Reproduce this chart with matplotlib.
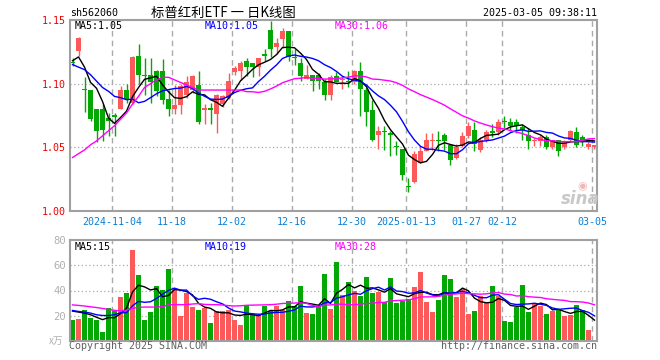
import matplotlib
matplotlib.use("Agg")
import matplotlib.pyplot as plt
import numpy as np
import pandas as pd

# daily candles, 2024-10-24 .. 2025-03-05 (index 0..87)
opens = [1.117, 1.126, 1.096, 1.095, 1.080, 1.080, 1.073, 1.075, 1.080, 1.095,
         1.085, 1.122, 1.107, 1.107, 1.110, 1.110, 1.088, 1.080, 1.083, 1.091,
         1.095, 1.099, 1.079, 1.081, 1.076, 1.084, 1.089, 1.109, 1.110, 1.118,
         1.116, 1.113, 1.123, 1.142, 1.129, 1.135, 1.141, 1.121, 1.116, 1.104,
         1.107, 1.107, 1.101, 1.091, 1.106, 1.103, 1.102, 1.101, 1.110, 1.095,
         1.079, 1.060, 1.063, 1.061, 1.051, 1.049, 1.020, 1.023, 1.038, 1.047,
         1.055, 1.056, 1.060, 1.052, 1.042, 1.051, 1.059, 1.064, 1.048, 1.056,
         1.063, 1.062, 1.071, 1.070, 1.070, 1.066, 1.060, 1.055, 1.055, 1.058,
         1.050, 1.056, 1.050, 1.056, 1.062, 1.058, 1.050, 1.050]
highs = [1.120, 1.137, 1.105, 1.095, 1.080, 1.084, 1.077, 1.077, 1.098, 1.100,
         1.122, 1.131, 1.120, 1.120, 1.111, 1.119, 1.095, 1.099, 1.100, 1.106,
         1.107, 1.110, 1.084, 1.085, 1.092, 1.091, 1.108, 1.114, 1.118, 1.120,
         1.116, 1.120, 1.127, 1.149, 1.136, 1.144, 1.141, 1.127, 1.120, 1.115,
         1.107, 1.108, 1.104, 1.107, 1.109, 1.106, 1.110, 1.111, 1.117, 1.097,
         1.087, 1.067, 1.067, 1.063, 1.055, 1.049, 1.026, 1.047, 1.051, 1.061,
         1.061, 1.063, 1.061, 1.053, 1.053, 1.062, 1.070, 1.070, 1.058, 1.064,
         1.068, 1.072, 1.075, 1.073, 1.072, 1.068, 1.065, 1.057, 1.060, 1.060,
         1.056, 1.056, 1.056, 1.064, 1.066, 1.060, 1.054, 1.052]
lows = [1.114, 1.122, 1.078, 1.071, 1.054, 1.055, 1.059, 1.059, 1.080, 1.085,
        1.084, 1.100, 1.091, 1.085, 1.090, 1.084, 1.075, 1.076, 1.076, 1.089,
        1.093, 1.068, 1.068, 1.068, 1.061, 1.082, 1.088, 1.107, 1.103, 1.106,
        1.105, 1.106, 1.118, 1.121, 1.123, 1.128, 1.118, 1.115, 1.102, 1.104,
        1.094, 1.096, 1.087, 1.087, 1.101, 1.096, 1.097, 1.100, 1.075, 1.067,
        1.055, 1.049, 1.048, 1.043, 1.044, 1.024, 1.015, 1.022, 1.038, 1.047,
        1.048, 1.047, 1.048, 1.036, 1.041, 1.050, 1.057, 1.047, 1.046, 1.054,
        1.058, 1.060, 1.065, 1.063, 1.061, 1.056, 1.049, 1.051, 1.051, 1.049,
        1.049, 1.043, 1.049, 1.055, 1.050, 1.051, 1.049, 1.049]
closes = [1.116, 1.136, 1.095, 1.072, 1.063, 1.064, 1.071, 1.074, 1.095, 1.088,
          1.121, 1.107, 1.106, 1.101, 1.094, 1.087, 1.080, 1.083, 1.098, 1.101,
          1.106, 1.070, 1.081, 1.079, 1.091, 1.090, 1.102, 1.112, 1.116, 1.113,
          1.113, 1.120, 1.122, 1.127, 1.132, 1.141, 1.121, 1.120, 1.106, 1.107,
          1.102, 1.102, 1.091, 1.105, 1.101, 1.103, 1.101, 1.110, 1.096, 1.078,
          1.056, 1.063, 1.062, 1.060, 1.050, 1.028, 1.019, 1.045, 1.047, 1.056,
          1.055, 1.055, 1.055, 1.040, 1.050, 1.059, 1.067, 1.053, 1.056, 1.062,
          1.061, 1.070, 1.070, 1.067, 1.067, 1.064, 1.055, 1.055, 1.058, 1.050,
          1.056, 1.047, 1.055, 1.063, 1.052, 1.055, 1.053, 1.052]
# volume, 万手
volumes = [16.8, 17.6, 24.2, 18.4, 17.0, 7.4, 25.8, 23.4, 34.9, 38.1,
           72.2, 52.2, 17.0, 22.6, 43.4, 40.2, 57.0, 41.0, 19.7, 38.1,
           26.6, 24.2, 25.8, 14.6, 23.7, 23.4, 24.2, 17.0, 13.0, 28.8,
           21.3, 20.2, 27.4, 23.4, 27.4, 24.8, 32.0, 27.4, 43.4, 22.4,
           21.0, 27.4, 53.0, 25.0, 62.9, 36.2, 46.6, 39.7, 35.7, 50.6,
           37.8, 38.6, 30.6, 49.8, 30.1, 32.0, 33.0, 42.9, 54.6, 30.6,
           22.6, 32.2, 52.2, 49.3, 34.9, 41.0, 21.0, 23.4, 35.7, 30.1,
           43.4, 35.7, 16.2, 15.4, 26.9, 44.2, 22.6, 29.0, 27.4, 21.0,
           23.4, 24.8, 20.0, 20.2, 28.2, 24.2, 9.0, 1.0]

ma5_head = [1.118, 1.121, 1.113, 1.101]
ma10_head = [1.115, 1.113, 1.111, 1.107, 1.102, 1.097, 1.094, 1.090, 1.089]
ma30_head = [1.042, 1.045, 1.048, 1.052, 1.055, 1.059, 1.063, 1.067, 1.072, 1.077,
             1.084, 1.090, 1.097, 1.100, 1.103, 1.105, 1.105, 1.103, 1.101, 1.099,
             1.097, 1.095, 1.095, 1.095, 1.095, 1.095, 1.095, 1.095, 1.095]
vma5_head = [23.7, 22.9, 22.1, 20.8]
vma10_head = [24.2, 23.4, 22.9, 22.1, 20.8, 20.2, 20.2, 20.8, 22.4]
vma30_head = [28.6, 28.2, 27.7, 27.1, 26.5, 25.8, 25.0, 24.3, 23.8, 24.5,
              25.8, 26.6, 26.9, 26.9, 26.9, 27.2, 28.6, 28.8, 28.8, 28.8,
              29.3, 29.6, 29.0, 28.8, 28.8, 28.5, 28.0, 27.7, 27.9]

tick_idx = [7, 17, 27, 37, 47, 56, 66, 72, 87]
tick_labels = ["2024-11-04", "11-18", "12-02", "12-16", "12-30",
               "2025-01-13", "01-27", "02-12", "03-05"]
price_ticks = [1.00, 1.05, 1.10, 1.15]
vol_ticks = [20, 40, 60, 80]

RED = "#fc5a5a"
GREEN = "#04a804"
GRID = "#aaaaaa"
MONO = "DejaVu Sans Mono"
CJK = ["Noto Sans CJK SC", "DejaVu Sans"]

W, H = 660, 360


def fx(px):
    return px / W


def fy(py):
    return 1 - py / H


def moving_avg(vals, n, head):
    s = pd.Series(vals).rolling(n).mean().to_numpy()
    s[:len(head)] = head
    return s


o = np.array(opens)
c = np.array(closes)
x = np.arange(len(o))
colors = np.where(c >= o, RED, GREEN)

fig = plt.figure(figsize=(6.6, 3.6), dpi=100)
ax = fig.add_axes([fx(70), fy(211), (597 - 70) / W, (211 - 20) / H])
axv = fig.add_axes([fx(70), fy(341), (597 - 70) / W, (341 - 240) / H])

for a in (ax, axv):
    a.set_xlim(-0.42, len(o) - 0.58)
    for s in a.spines.values():
        s.set_color("#a0a0a0")
        s.set_linewidth(1.5)
    for i in tick_idx:
        a.axvline(i - 0.4, color=GRID, lw=1, ls=(0, (4, 3)), zorder=0)
    a.tick_params(length=0)

# price panel
ax.set_ylim(1.00, 1.15)
for p in price_ticks[1:3]:
    ax.axhline(p, color=GRID, lw=0.9, ls=(0, (1, 2)), zorder=0)
ax.vlines(x, lows, highs, colors=colors, lw=1, zorder=2)
body = np.maximum(np.abs(c - o), 0.0007)
ax.bar(x, body, bottom=np.minimum(o, c), width=0.8, color=colors, lw=0, zorder=2)
ax.plot(x, moving_avg(closes, 5, ma5_head), color="black", lw=1, zorder=3)
ax.plot(x, moving_avg(closes, 10, ma10_head), color="#0000ff", lw=1, zorder=3)
ax.plot(x, moving_avg(closes, 30, ma30_head), color="#ff00ff", lw=1, zorder=3)
ax.set_yticks(price_ticks)
ax.set_yticklabels(["%.2f" % p for p in price_ticks], color="#ee0000",
                   fontsize=7.2, family=MONO)
ax.tick_params(axis="y", pad=3)
ax.set_xticks([i - 0.4 for i in tick_idx])
ax.set_xticklabels(tick_labels, color="#0a7fd4", fontsize=7.2, family=MONO)
ax.tick_params(axis="x", pad=4)

# volume panel
axv.set_ylim(0, 80)
for v in vol_ticks[:3]:
    axv.axhline(v, color=GRID, lw=0.9, ls=(0, (1, 2)), zorder=0)
axv.bar(x, volumes, width=0.8, color=colors, lw=0, zorder=2)
axv.plot(x, moving_avg(volumes, 5, vma5_head), color="black", lw=1, zorder=3)
axv.plot(x, moving_avg(volumes, 10, vma10_head), color="#0000ff", lw=1, zorder=3)
axv.plot(x, moving_avg(volumes, 30, vma30_head), color="#ff00ff", lw=1, zorder=3)
axv.set_yticks(vol_ticks)
axv.set_yticklabels([str(v) for v in vol_ticks], color="#b0b0b0",
                    fontsize=7.6, family=MONO)
axv.tick_params(axis="y", pad=3)
axv.set_xticks([])

# texts
fig.text(fx(70), fy(13), "sh562060", fontsize=7.2, family=MONO, va="center")
fig.text(fx(223), fy(13), "标普红利ETF 一 日K线图", fontsize=9.6, family=CJK,
         ha="center", va="center")
fig.text(fx(597), fy(13), "2025-03-05 09:38:11", fontsize=7.2, family=MONO,
         ha="right", va="center")

ma_cols = ["black", "#0000ff", "#ff00ff"]
for lab, col, px in zip(["MA5:1.05", "MA10:1.05", "MA30:1.06"], ma_cols, [75, 205, 335]):
    fig.text(fx(px), fy(26), lab, fontsize=7.2, family=MONO, color=col, va="center")
for lab, col, px in zip(["MA5:15", "MA10:19", "MA30:28"], ma_cols, [75, 205, 335]):
    fig.text(fx(px), fy(247), lab, fontsize=7.2, family=MONO, color=col, va="center")

fig.text(fx(63), fy(341), "x万", fontsize=7, family=CJK, color="#b0b0b0",
         ha="right", va="center", style="italic")
fig.text(fx(69), fy(346), "Copyright 2025 SINA.COM", fontsize=7.2, family=MONO,
         color="#606060", va="center")
fig.text(fx(597), fy(346), "http://finance.sina.com.cn", fontsize=7.2, family=MONO,
         color="#606060", ha="right", va="center")
fig.text(fx(580), fy(199), "sina", fontsize=12, color="#c8c8c8", weight="bold",
         style="italic", ha="center", va="center")
fig.text(fx(582), fy(186), "◉", fontsize=8, color="#f2b8b8", ha="center", va="center")

fig.savefig("out.png", dpi=100)
